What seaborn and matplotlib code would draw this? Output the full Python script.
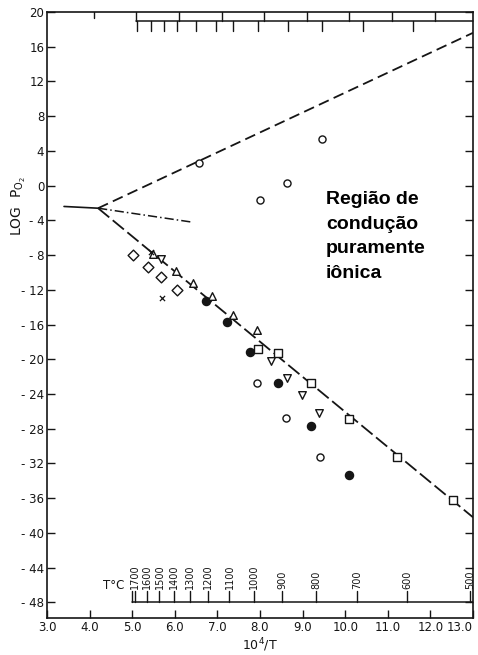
import matplotlib
matplotlib.use("Agg")
import matplotlib.pyplot as plt
import seaborn as sns

# boundary lines, x = 10^4/T, y = log pO2
upper_x = [4.2, 13.0]
upper_y = [-2.6, 17.6]
lower_x = [4.2, 13.0]
lower_y = [-2.6, -38.2]
left_x = [3.4, 4.2]
left_y = [-2.4, -2.6]
dashdot_x = [4.2, 6.4]
dashdot_y = [-2.6, -4.2]

# measured points by symbol
open_circle_x = [6.58, 8.0, 8.63, 9.45, 7.92, 8.61, 9.41]
open_circle_y = [2.6, -1.6, 0.25, 5.4, -22.7, -26.8, -31.3]
filled_circle_x = [6.73, 7.22, 7.77, 8.43, 9.19, 10.10]
filled_circle_y = [-13.3, -15.7, -19.2, -22.7, -27.7, -33.3]
diamond_x = [5.03, 5.38, 5.68, 6.06]
diamond_y = [-8.0, -9.4, -10.5, -12.0]
tri_up_x = [5.50, 6.03, 6.43, 6.87, 7.36, 7.92]
tri_up_y = [-7.9, -9.8, -11.2, -12.7, -14.9, -16.65]
tri_down_x = [5.67, 8.25, 8.63, 8.98, 9.39]
tri_down_y = [-8.5, -20.2, -22.2, -24.1, -26.2]
square_x = [7.95, 8.43, 9.19, 10.10, 11.21, 12.54]
square_y = [-18.8, -19.3, -22.7, -26.9, -31.2, -36.2]
cross_x = [5.69, 5.45]
cross_y = [-12.9, -7.6]

# temperature scale (deg C)
temps = [1700, 1600, 1500, 1400, 1300, 1200, 1100, 1000, 900, 800, 700, 600, 500]
# upper (partly cut) scale on the frame
top_links = [5.1, 6.1, 7.1, 8.1, 9.1, 10.1, 11.1, 12.1]
top_ticks = [5.11, 5.44, 5.75, 6.05, 6.50, 6.97, 7.37, 7.95, 8.66, 9.46, 10.42, 11.59]

y_ticks = list(range(20, -49, -4))
x_ticks = [3.0, 4.0, 5.0, 6.0, 7.0, 8.0, 9.0, 10.0, 11.0, 12.0, 13.0]

INK = "#151515"

sns.set_theme(style="white")
plt.rcParams["font.family"] = ["DejaVu Sans"]

fig = plt.figure(figsize=(4.78, 6.55), dpi=100)
ax = fig.add_axes([0.0983, 0.0565, 0.8912, 0.9252])

# boundary lines
sns.lineplot(x=upper_x, y=upper_y, ax=ax, color=INK, lw=1.3, linestyle=(0, (6, 3)))
sns.lineplot(x=lower_x, y=lower_y, ax=ax, color=INK, lw=1.3, linestyle=(0, (8, 2.5)))
sns.lineplot(x=left_x, y=left_y, ax=ax, color=INK, lw=1.2)
sns.lineplot(x=dashdot_x, y=dashdot_y, ax=ax, color=INK, lw=1.1, linestyle=(0, (6, 2, 1, 2)))

series = [
    (open_circle_x, open_circle_y, "o", "white", 26),
    (filled_circle_x, filled_circle_y, "o", INK, 34),
    (diamond_x, diamond_y, "D", "white", 30),
    (tri_up_x, tri_up_y, "^", "white", 30),
    (tri_down_x, tri_down_y, "v", "white", 30),
    (square_x, square_y, "s", "white", 26),
]
for xs, ys, mk, face, size in series:
    sns.scatterplot(x=xs, y=ys, ax=ax, marker=mk, s=size, color=face,
                    edgecolor=INK, linewidth=1.0, zorder=3)
sns.scatterplot(x=cross_x, y=cross_y, ax=ax, marker="x", s=14, color=INK,
                linewidth=0.9, zorder=3)

# temperature scale at the bottom
inv_t = [1e4 / (t + 273) for t in temps]
ax.plot([inv_t[0] - 0.07, 13.0], [-48, -48], color=INK, lw=1.1)
for xv, t in zip(inv_t, temps):
    ax.plot([xv, xv], [-48, -46.7], color=INK, lw=1.0)
    ax.text(xv, -46.5, str(t), rotation=90, ha="center", va="bottom",
            fontsize=7, color=INK)
ax.plot([inv_t[0] - 0.07, inv_t[0] - 0.07], [-48, -46.7], color=INK, lw=1.0)
ax.text(4.57, -46.0, "T°C", ha="center", va="center", fontsize=8.5, color=INK)

# upper frame scale
ax.plot([top_links[0], 13.0], [19.0, 19.0], color=INK, lw=1.1, clip_on=False)
for xv in top_links:
    ax.plot([xv, xv], [19.0, 20.0], color=INK, lw=1.0)
for xv in top_ticks:
    ax.plot([xv, xv], [19.0, 17.8], color=INK, lw=1.0)
ax.plot([4.1, 4.1], [20.0, 19.3], color=INK, lw=1.0)

ax.text(9.55, -0.6, "Região de\ncondução\npuramente\niônica", ha="left", va="top",
        fontsize=14, fontweight="bold", family=["Liberation Sans", "DejaVu Sans"],
        linespacing=1.6, color="black")

ax.set_xlim(3.0, 13.0)
ax.set_ylim(-49.8, 20)
ax.set_xticks(x_ticks)
ax.set_xticklabels([f"{v:.1f}" for v in x_ticks])
ax.get_xticklabels()[-1].set_ha("right")
ax.set_yticks(y_ticks)
ax.set_yticklabels([f"- {abs(v)}" if v < 0 else str(v) for v in y_ticks])
ax.tick_params(axis="both", direction="in", length=6, width=1.0, colors=INK,
               labelsize=8.5, pad=2)
ax.tick_params(axis="y", right=True, left=True)
ax.tick_params(axis="x", bottom=True, top=False)

ax.set_xlabel(r"10$^4$/T", fontsize=9, color=INK, labelpad=2)
ax.set_ylabel(r"LOG  P$_{\mathrm{O_2}}$", fontsize=10, color=INK)
ax.yaxis.set_label_coords(-0.045, 0.68)

for side in ["left", "right", "top", "bottom"]:
    ax.spines[side].set_visible(True)
    ax.spines[side].set_color(INK)
    ax.spines[side].set_linewidth(1.2)

fig.savefig("out.png", dpi=100)
